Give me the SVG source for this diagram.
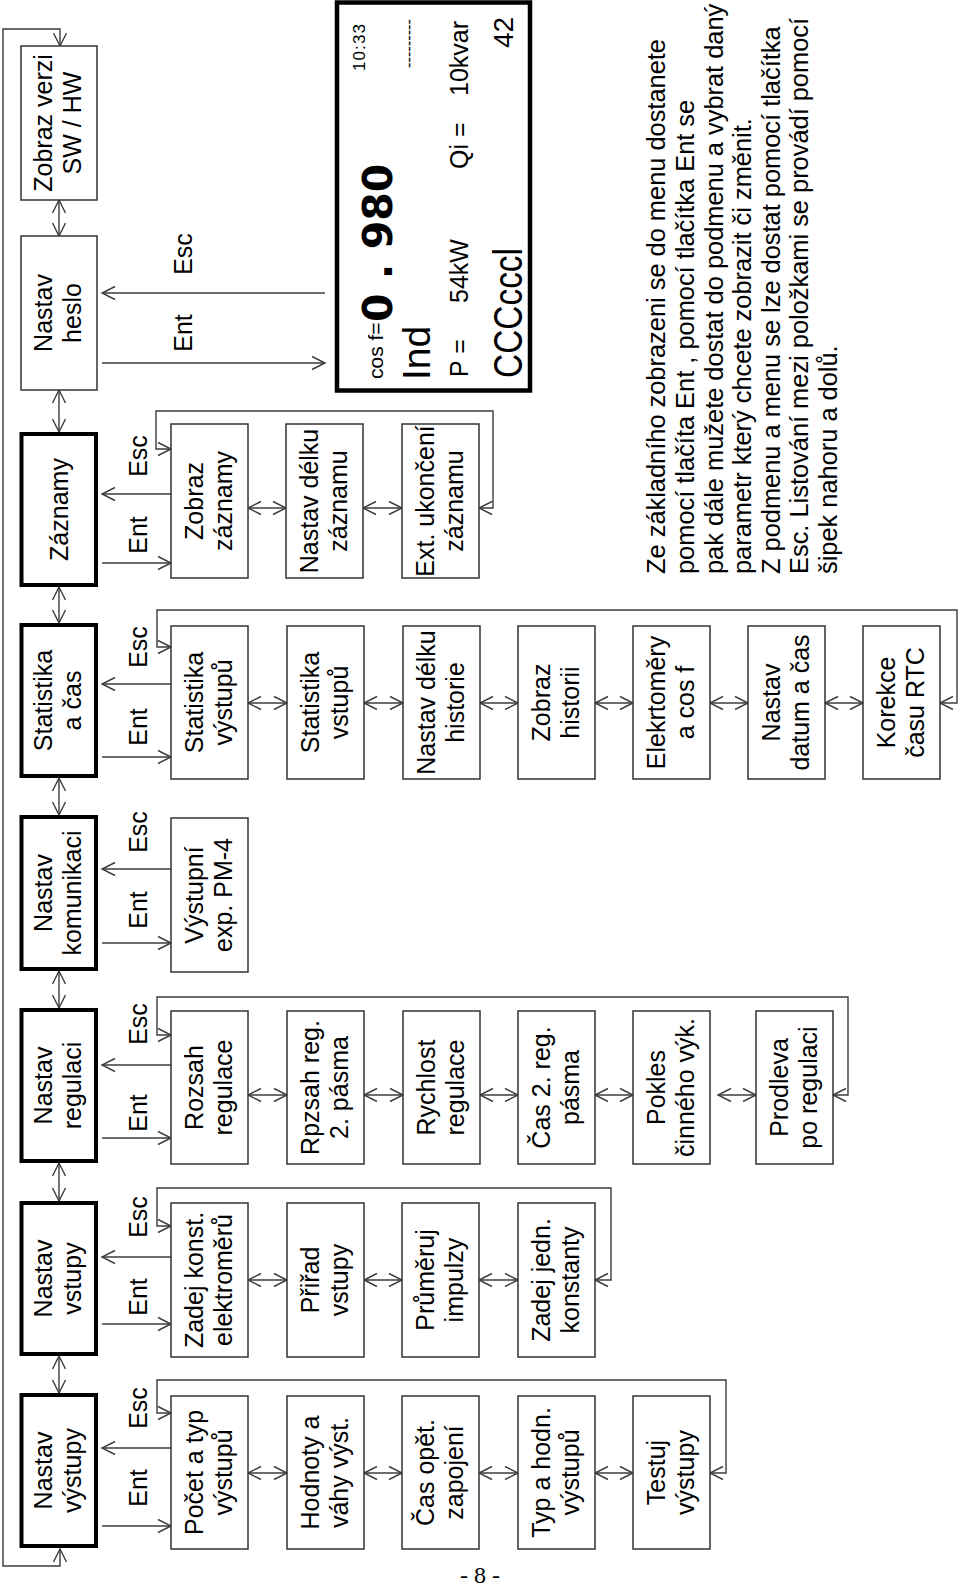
<svg xmlns="http://www.w3.org/2000/svg" width="960" height="1588" viewBox="0 0 960 1588">
<style>
text{font-family:"Liberation Sans",Arial,sans-serif;fill:#000}
.t{font-size:25px;text-anchor:middle}
.lbl{font-size:25px;text-anchor:middle}
.desc{font-size:25.4px}
.thick{fill:#fff;stroke:#000;stroke-width:4}
.thin{fill:#fff;stroke:#333;stroke-width:1.5}
.sub{fill:#fff;stroke:#333;stroke-width:1.5}
.d{fill:none;stroke:#3c3c3c;stroke-width:1.4;marker-start:url(#ah);marker-end:url(#ah)}
.s{fill:none;stroke:#3c3c3c;stroke-width:1.4;marker-end:url(#ah)}
</style>
<defs>
<marker id="ah" markerUnits="userSpaceOnUse" viewBox="0 0 16 16" markerWidth="16" markerHeight="16" refX="14" refY="8" orient="auto-start-reverse">
<path d="M1,1.5 L14,8 L1,14.5" fill="none" stroke="#3c3c3c" stroke-width="1.4"/>
</marker>
</defs>
<rect width="960" height="1588" fill="#fff"/>

<g id="connectors">
<path class="d" d="M60,1549 V1566 H3 V29 H60 V46"/>
<line class="d" x1="59" y1="200" x2="59" y2="236"/>
<line class="d" x1="59" y1="390" x2="59" y2="432"/>
<line class="d" x1="59" y1="587" x2="59" y2="623"/>
<line class="d" x1="59" y1="778" x2="59" y2="815"/>
<line class="d" x1="59" y1="971" x2="59" y2="1008"/>
<line class="d" x1="59" y1="1163" x2="59" y2="1201"/>
<line class="d" x1="59" y1="1356" x2="59" y2="1393"/>
<path class="s" d="M325,293 H102"/>
<path class="s" d="M102,363 H325"/>
<path class="s" d="M171,494 H102"/>
<path class="s" d="M102,563 H171"/>
<path class="s" d="M171,684 H102"/>
<path class="s" d="M102,757 H171"/>
<path class="s" d="M171,869 H102"/>
<path class="s" d="M102,943 H171"/>
<path class="s" d="M171,1065 H102"/>
<path class="s" d="M102,1138 H171"/>
<path class="s" d="M171,1257 H102"/>
<path class="s" d="M102,1324 H171"/>
<path class="s" d="M171,1448 H102"/>
<path class="s" d="M102,1526 H171"/>
<path class="d" d="M479,508 H493 V411 H156 V449 H171"/>
<path class="d" d="M940,703 H957 V610 H157 V647 H171"/>
<path class="d" d="M833,1095 H848 V997 H157 V1035 H171"/>
<path class="d" d="M595,1280 H611 V1188 H157 V1226 H171"/>
<path class="d" d="M710,1473 H726 V1380 H157 V1413 H171"/>
<line class="d" x1="248" y1="508" x2="286" y2="508"/>
<line class="d" x1="363" y1="508" x2="402" y2="508"/>
<line class="d" x1="248" y1="703" x2="287" y2="703"/>
<line class="d" x1="364" y1="703" x2="403" y2="703"/>
<line class="d" x1="480" y1="703" x2="518" y2="703"/>
<line class="d" x1="595" y1="703" x2="633" y2="703"/>
<line class="d" x1="710" y1="703" x2="748" y2="703"/>
<line class="d" x1="825" y1="703" x2="863" y2="703"/>
<line class="d" x1="248" y1="1095" x2="287" y2="1095"/>
<line class="d" x1="364" y1="1095" x2="403" y2="1095"/>
<line class="d" x1="480" y1="1095" x2="518" y2="1095"/>
<line class="d" x1="595" y1="1095" x2="633" y2="1095"/>
<line class="d" x1="718" y1="1095" x2="756" y2="1095"/>
<line class="d" x1="248" y1="1280" x2="287" y2="1280"/>
<line class="d" x1="364" y1="1280" x2="402" y2="1280"/>
<line class="d" x1="479" y1="1280" x2="518" y2="1280"/>
<line class="d" x1="248" y1="1473" x2="287" y2="1473"/>
<line class="d" x1="364" y1="1473" x2="402" y2="1473"/>
<line class="d" x1="479" y1="1473" x2="518" y2="1473"/>
<line class="d" x1="595" y1="1473" x2="633" y2="1473"/>
</g>

<g id="labels">
<text class="lbl" transform="translate(192,333) rotate(-90)">Ent</text>
<text class="lbl" transform="translate(192,254) rotate(-90)">Esc</text>
<text class="lbl" transform="translate(147,535) rotate(-90)">Ent</text>
<text class="lbl" transform="translate(147,456) rotate(-90)">Esc</text>
<text class="lbl" transform="translate(147,727) rotate(-90)">Ent</text>
<text class="lbl" transform="translate(147,647) rotate(-90)">Esc</text>
<text class="lbl" transform="translate(147,910) rotate(-90)">Ent</text>
<text class="lbl" transform="translate(147,832) rotate(-90)">Esc</text>
<text class="lbl" transform="translate(147,1113) rotate(-90)">Ent</text>
<text class="lbl" transform="translate(147,1024) rotate(-90)">Esc</text>
<text class="lbl" transform="translate(147,1297) rotate(-90)">Ent</text>
<text class="lbl" transform="translate(147,1217) rotate(-90)">Esc</text>
<text class="lbl" transform="translate(147,1488) rotate(-90)">Ent</text>
<text class="lbl" transform="translate(147,1408) rotate(-90)">Esc</text>
</g>

<g id="n-zobraz-verzi"><rect class="thin" x="21" y="46" width="76" height="154"/>
<text class="t" transform="translate(59,123) rotate(-90)"><tspan x="0" y="-7">Zobraz verzi</tspan><tspan x="0" y="22">SW / HW</tspan></text></g>
<g id="n-nastav-heslo"><rect class="thin" x="21" y="236" width="76" height="154"/>
<text class="t" transform="translate(59,313) rotate(-90)"><tspan x="0" y="-7">Nastav</tspan><tspan x="0" y="22">heslo</tspan></text></g>
<g id="n-zaznamy"><rect class="thick" x="21.5" y="434" width="74.5" height="151"/>
<text class="t" transform="translate(59,509.5) rotate(-90)"><tspan x="0" y="8.5">Záznamy</tspan></text></g>
<g id="n-statistika"><rect class="thick" x="21.5" y="625" width="74.5" height="151"/>
<text class="t" transform="translate(59,700.5) rotate(-90)"><tspan x="0" y="-7">Statistika</tspan><tspan x="0" y="22">a čas</tspan></text></g>
<g id="n-komunikace"><rect class="thick" x="21.5" y="817" width="74.5" height="152"/>
<text class="t" transform="translate(59,893) rotate(-90)"><tspan x="0" y="-7">Nastav</tspan><tspan x="0" y="22">komunikaci</tspan></text></g>
<g id="n-regulace"><rect class="thick" x="21.5" y="1010" width="74.5" height="151"/>
<text class="t" transform="translate(59,1085.5) rotate(-90)"><tspan x="0" y="-7">Nastav</tspan><tspan x="0" y="22">regulaci</tspan></text></g>
<g id="n-vstupy"><rect class="thick" x="21.5" y="1203" width="74.5" height="151"/>
<text class="t" transform="translate(59,1278.5) rotate(-90)"><tspan x="0" y="-7">Nastav</tspan><tspan x="0" y="22">vstupy</tspan></text></g>
<g id="n-vystupy"><rect class="thick" x="21.5" y="1395" width="74.5" height="151"/>
<text class="t" transform="translate(59,1470.5) rotate(-90)"><tspan x="0" y="-7">Nastav</tspan><tspan x="0" y="22">výstupy</tspan></text></g>

<g id="n-display">
<rect x="337" y="2.5" width="193" height="388" fill="#fff" stroke="#000" stroke-width="4.5"/>
<text transform="translate(383,379) rotate(-90)" font-size="21">cos f=</text>
<text transform="translate(392,322) rotate(-90)" font-size="41" font-weight="bold" style="font-family:'DejaVu Sans',sans-serif">0 . 980</text>
<text transform="translate(365,71) rotate(-90)" font-size="17" textLength="47">10:33</text>
<text transform="translate(414,68) rotate(-90)" font-size="16" textLength="49" lengthAdjust="spacingAndGlyphs">---------</text>
<text transform="translate(430,380) rotate(-90)" font-size="39">Ind</text>
<text transform="translate(468,377) rotate(-90)" font-size="25">P =</text>
<text transform="translate(468,303) rotate(-90)" font-size="25">54kW</text>
<text transform="translate(468,169) rotate(-90)" font-size="25">Qi =</text>
<text transform="translate(468,96) rotate(-90)" font-size="25">10kvar</text>
<text transform="translate(522,378) rotate(-90)" font-size="40" textLength="130" lengthAdjust="spacingAndGlyphs">CCCcccl</text>
<text transform="translate(513,48) rotate(-90)" font-size="28">42</text>
</g>

<g id="n-zobraz-zaznamy"><rect class="sub" x="171" y="424" width="77" height="154"/>
<text class="t" transform="translate(209.5,501) rotate(-90)"><tspan x="0" y="-7">Zobraz</tspan><tspan x="0" y="22">záznamy</tspan></text></g>
<g id="n-delka-zaznamu"><rect class="sub" x="286" y="424" width="77" height="154"/>
<text class="t" transform="translate(324.5,501) rotate(-90)"><tspan x="0" y="-7">Nastav délku</tspan><tspan x="0" y="22">záznamu</tspan></text></g>
<g id="n-ext-ukonceni"><rect class="sub" x="402" y="424" width="77" height="154"/>
<text class="t" transform="translate(440.5,501) rotate(-90)"><tspan x="0" y="-7">Ext. ukončení</tspan><tspan x="0" y="22">záznamu</tspan></text></g>

<g id="n-stat-vystupu"><rect class="sub" x="171" y="626" width="77" height="153"/>
<text class="t" transform="translate(209.5,702.5) rotate(-90)"><tspan x="0" y="-7">Statistika</tspan><tspan x="0" y="22">výstupů</tspan></text></g>
<g id="n-stat-vstupu"><rect class="sub" x="287" y="626" width="77" height="153"/>
<text class="t" transform="translate(325.5,702.5) rotate(-90)"><tspan x="0" y="-7">Statistika</tspan><tspan x="0" y="22">vstupů</tspan></text></g>
<g id="n-delka-historie"><rect class="sub" x="403" y="626" width="77" height="153"/>
<text class="t" transform="translate(441.5,702.5) rotate(-90)"><tspan x="0" y="-7">Nastav délku</tspan><tspan x="0" y="22">historie</tspan></text></g>
<g id="n-zobraz-historii"><rect class="sub" x="518" y="626" width="77" height="153"/>
<text class="t" transform="translate(556.5,702.5) rotate(-90)"><tspan x="0" y="-7">Zobraz</tspan><tspan x="0" y="22">historii</tspan></text></g>
<g id="n-elektromery"><rect class="sub" x="633" y="626" width="77" height="153"/>
<text class="t" transform="translate(671.5,702.5) rotate(-90)"><tspan x="0" y="-7">Elekrtoměry</tspan><tspan x="0" y="22">a cos f</tspan></text></g>
<g id="n-datum-cas"><rect class="sub" x="748" y="626" width="77" height="153"/>
<text class="t" transform="translate(786.5,702.5) rotate(-90)"><tspan x="0" y="-7">Nastav</tspan><tspan x="0" y="22">datum a čas</tspan></text></g>
<g id="n-korekce"><rect class="sub" x="863" y="626" width="77" height="153"/>
<text class="t" transform="translate(901.5,702.5) rotate(-90)"><tspan x="0" y="-7">Korekce</tspan><tspan x="0" y="22">času RTC</tspan></text></g>

<g id="n-vystupni-exp"><rect class="sub" x="171" y="818" width="77" height="154"/>
<text class="t" transform="translate(209.5,895) rotate(-90)"><tspan x="0" y="-7">Výstupní</tspan><tspan x="0" y="22">exp. PM-4</tspan></text></g>

<g id="n-rozsah"><rect class="sub" x="171" y="1011" width="77" height="153"/>
<text class="t" transform="translate(209.5,1087.5) rotate(-90)"><tspan x="0" y="-7">Rozsah</tspan><tspan x="0" y="22">regulace</tspan></text></g>
<g id="n-rozsah2"><rect class="sub" x="287" y="1011" width="77" height="153"/>
<text class="t" transform="translate(325.5,1087.5) rotate(-90)"><tspan x="0" y="-7">Rpzsah reg.</tspan><tspan x="0" y="22">2. pásma</tspan></text></g>
<g id="n-rychlost"><rect class="sub" x="403" y="1011" width="77" height="153"/>
<text class="t" transform="translate(441.5,1087.5) rotate(-90)"><tspan x="0" y="-7">Rychlost</tspan><tspan x="0" y="22">regulace</tspan></text></g>
<g id="n-cas2"><rect class="sub" x="518" y="1011" width="77" height="153"/>
<text class="t" transform="translate(556.5,1087.5) rotate(-90)"><tspan x="0" y="-7">Čas 2. reg.</tspan><tspan x="0" y="22">pásma</tspan></text></g>
<g id="n-pokles"><rect class="sub" x="633" y="1011" width="77" height="153"/>
<text class="t" transform="translate(671.5,1087.5) rotate(-90)"><tspan x="0" y="-7">Pokles</tspan><tspan x="0" y="22">činného výk.</tspan></text></g>
<g id="n-prodleva"><rect class="sub" x="756" y="1011" width="77" height="153"/>
<text class="t" transform="translate(794.5,1087.5) rotate(-90)"><tspan x="0" y="-7">Prodleva</tspan><tspan x="0" y="22">po regulaci</tspan></text></g>

<g id="n-zadej-konst"><rect class="sub" x="171" y="1203" width="77" height="154"/>
<text class="t" transform="translate(209.5,1280) rotate(-90)"><tspan x="0" y="-7">Zadej konst.</tspan><tspan x="0" y="22">elektroměrů</tspan></text></g>
<g id="n-priradit"><rect class="sub" x="287" y="1203" width="77" height="154"/>
<text class="t" transform="translate(325.5,1280) rotate(-90)"><tspan x="0" y="-7">Přiřad</tspan><tspan x="0" y="22">vstupy</tspan></text></g>
<g id="n-prumeruj"><rect class="sub" x="402" y="1203" width="77" height="154"/>
<text class="t" transform="translate(440.5,1280) rotate(-90)"><tspan x="0" y="-7">Průměruj</tspan><tspan x="0" y="22">impulzy</tspan></text></g>
<g id="n-zadej-jedn"><rect class="sub" x="518" y="1203" width="77" height="154"/>
<text class="t" transform="translate(556.5,1280) rotate(-90)"><tspan x="0" y="-7">Zadej jedn.</tspan><tspan x="0" y="22">konstanty</tspan></text></g>

<g id="n-pocet"><rect class="sub" x="171" y="1396" width="77" height="153"/>
<text class="t" transform="translate(209.5,1472.5) rotate(-90)"><tspan x="0" y="-7">Počet a typ</tspan><tspan x="0" y="22">výstupů</tspan></text></g>
<g id="n-hodnoty"><rect class="sub" x="287" y="1396" width="77" height="153"/>
<text class="t" transform="translate(325.5,1472.5) rotate(-90)"><tspan x="0" y="-7">Hodnoty a</tspan><tspan x="0" y="22">váhy výst.</tspan></text></g>
<g id="n-cas-opet"><rect class="sub" x="402" y="1396" width="77" height="153"/>
<text class="t" transform="translate(440.5,1472.5) rotate(-90)"><tspan x="0" y="-7">Čas opět.</tspan><tspan x="0" y="22">zapojení</tspan></text></g>
<g id="n-typ-hodn"><rect class="sub" x="518" y="1396" width="77" height="153"/>
<text class="t" transform="translate(556.5,1472.5) rotate(-90)"><tspan x="0" y="-7">Typ a hodn.</tspan><tspan x="0" y="22">výstupů</tspan></text></g>
<g id="n-testuj"><rect class="sub" x="633" y="1396" width="77" height="153"/>
<text class="t" transform="translate(671.5,1472.5) rotate(-90)"><tspan x="0" y="-7">Testuj</tspan><tspan x="0" y="22">výstupy</tspan></text></g>

<g id="description">
<text class="desc" transform="translate(665,574) rotate(-90)">Ze základního zobrazeni se do menu dostanete</text>
<text class="desc" transform="translate(694,574) rotate(-90)">pomocí tlačíta Ent , pomocí tlačítka Ent se</text>
<text class="desc" transform="translate(723,574) rotate(-90)">pak dále mužete dostat do podmenu a vybrat daný</text>
<text class="desc" transform="translate(751,574) rotate(-90)">parametr který chcete zobrazit či změnit.</text>
<text class="desc" transform="translate(780,574) rotate(-90)">Z podmenu a menu se lze dostat pomocí tlačítka</text>
<text class="desc" transform="translate(808,574) rotate(-90)">Esc. Listování mezi položkami se provádí pomocí</text>
<text class="desc" transform="translate(837,574) rotate(-90)">šipek nahoru a dolů.</text>
</g>

<text x="480" y="1583" font-size="24" text-anchor="middle" style="font-family:'Liberation Serif','Times New Roman',serif">- 8 -</text>
</svg>
